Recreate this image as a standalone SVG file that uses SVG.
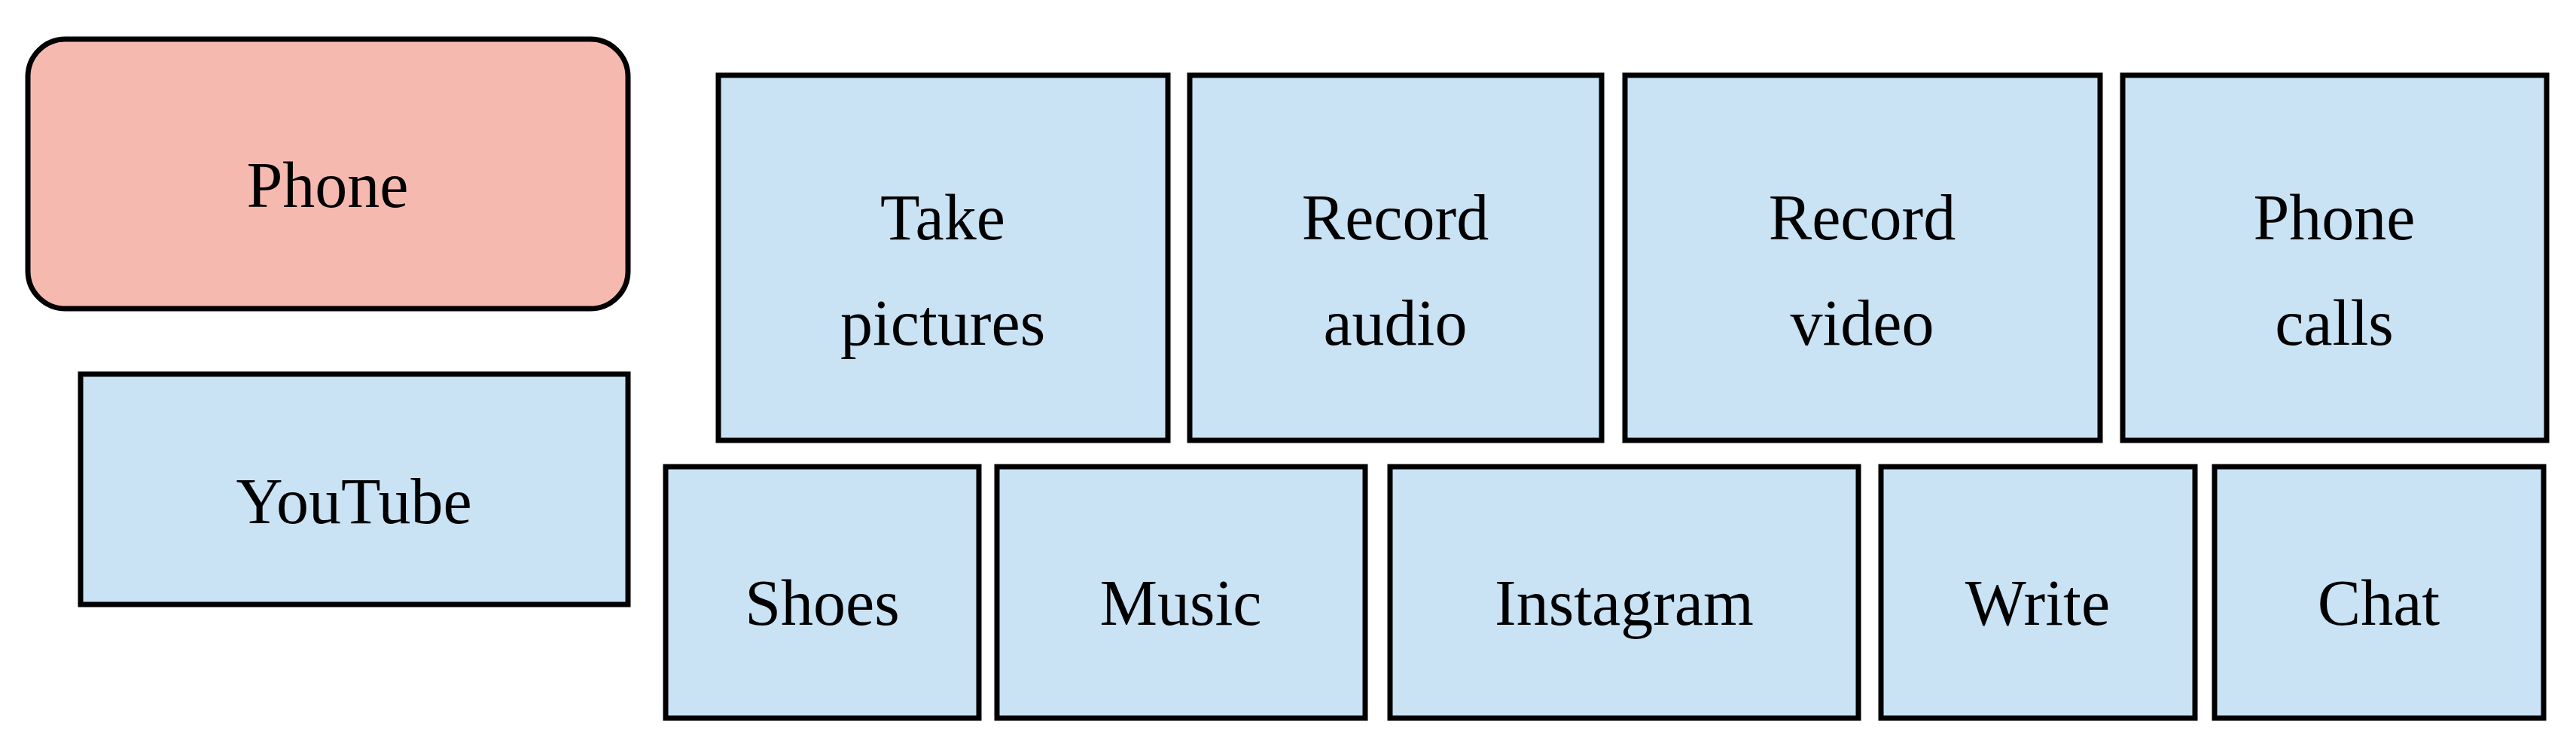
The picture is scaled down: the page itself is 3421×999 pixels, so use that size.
<svg xmlns="http://www.w3.org/2000/svg" width="3421" height="999" viewBox="0 0 3421 999">
<style>
.b{fill:#c9e2f4;stroke:#000;stroke-width:7}
.p{fill:#f6b9b0;stroke:#000;stroke-width:7}
text{font-family:"Liberation Serif",serif;font-size:86px;text-anchor:middle;fill:#000}
</style>
<rect width="3421" height="999" fill="#fff"/>
<g id="phone"><rect class="p" x="37" y="52" width="797" height="358" rx="50"/><text x="435" y="275">Phone</text></g>
<g id="youtube"><rect class="b" x="107" y="497" width="727" height="306"/><text x="470" y="695">YouTube</text></g>
<g id="take"><rect class="b" x="954" y="100" width="597" height="485"/><text x="1252" y="318">Take</text><text x="1252" y="458">pictures</text></g>
<g id="audio"><rect class="b" x="1580" y="100" width="547" height="485"/><text x="1853" y="318">Record</text><text x="1853" y="458">audio</text></g>
<g id="video"><rect class="b" x="2158" y="100" width="631" height="485"/><text x="2473" y="318">Record</text><text x="2473" y="458">video</text></g>
<g id="calls"><rect class="b" x="2819" y="100" width="563" height="485"/><text x="3100" y="318">Phone</text><text x="3100" y="458">calls</text></g>
<g id="shoes"><rect class="b" x="884" y="620" width="416" height="334"/><text x="1092" y="830">Shoes</text></g>
<g id="music"><rect class="b" x="1324" y="620" width="489" height="334"/><text x="1568" y="830">Music</text></g>
<g id="instagram"><rect class="b" x="1846" y="620" width="622" height="334"/><text x="2157" y="830">Instagram</text></g>
<g id="write"><rect class="b" x="2498" y="620" width="417" height="334"/><text x="2706" y="830">Write</text></g>
<g id="chat"><rect class="b" x="2941" y="620" width="437" height="334"/><text x="3159" y="830">Chat</text></g>
<g id="connectors"/>
</svg>
